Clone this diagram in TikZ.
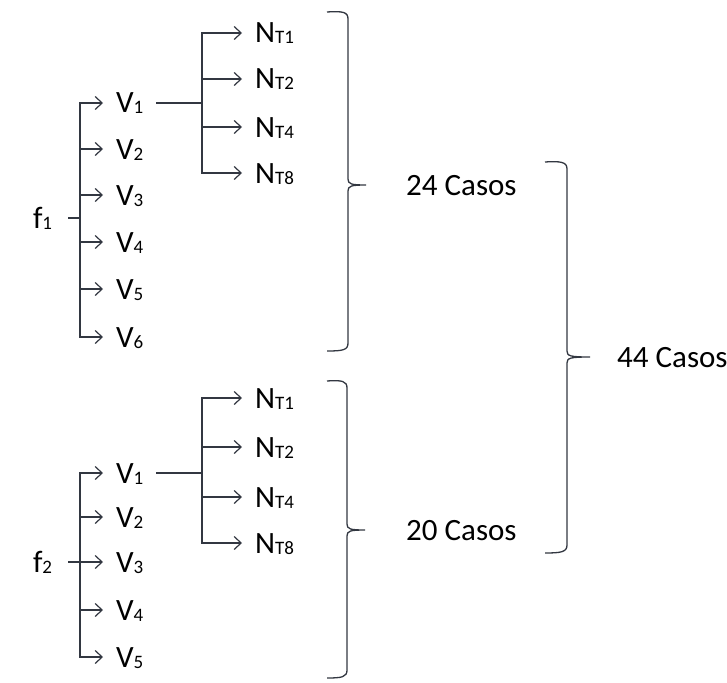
\documentclass[tikz,border=0pt]{standalone}
\usepackage{fontspec}
\setmainfont{Carlito}
\usetikzlibrary{arrows.meta}
\definecolor{linecol}{RGB}{50,55,65}
\newcommand{\sbx}[1]{\raisebox{-1pt}{\fontsize{19}{19}\selectfont #1}}
\begin{document}
\begin{tikzpicture}[x=1pt,y=-1pt,
  every node/.style={font=\fontsize{31}{33}\selectfont, inner sep=0pt, text height=20pt, text depth=0pt, anchor=west, text=black},
  lab/.style={outer xsep=13pt},
  fn/.style={outer xsep=16pt},
  ln/.style={draw=linecol, line width=1.3pt},
  thk/.style={draw=linecol, line width=2.1pt},
  arr/.style={ln, -{Straight Barb[length=7pt,width=13pt,line width=1.2pt]}},
  brc/.style={draw=linecol, line width=1.3pt}
]
\useasboundingbox (0,0) rectangle (727,682);

% ---------- top tree ----------
\node[fn] (f1) at (17,218) {f\sbx{1}};
\coordinate (b1) at (80,218);
\node[lab] (v11) at (103,103) {V\sbx{1}};
\node[lab] (v12) at (103,149) {V\sbx{2}};
\node[lab] (v13) at (103,195) {V\sbx{3}};
\node[lab] (v14) at (103,242) {V\sbx{4}};
\node[lab] (v15) at (103,289) {V\sbx{5}};
\node[lab] (v16) at (103,337) {V\sbx{6}};
\draw[thk] (f1.east) -- (b1);
\draw[arr] (b1) |- (v11.west);
\draw[arr] (b1) |- (v16.west);
\foreach \v in {v12,v13,v14,v15} \draw[arr] (b1 |- \v.west) -- (\v.west);

\coordinate (n1) at (202,103);
\node[lab] (t11) at (242,33) {N\sbx{T1}};
\node[lab] (t12) at (242,79) {N\sbx{T2}};
\node[lab] (t14) at (242,127) {N\sbx{T4}};
\node[lab] (t18) at (242,173) {N\sbx{T8}};
\draw[thk] (v11.east) -- (n1);
\draw[arr] (n1) |- (t11.west);
\draw[arr] (n1) |- (t18.west);
\foreach \v in {t12,t14} \draw[arr] (n1 |- \v.west) -- (\v.west);

% ---------- bottom tree ----------
\node[fn] (f2) at (17,562) {f\sbx{2}};
\coordinate (b2) at (80,562);
\node[lab] (v21) at (103,473) {V\sbx{1}};
\node[lab] (v22) at (103,517) {V\sbx{2}};
\node[lab] (v23) at (103,562) {V\sbx{3}};
\node[lab] (v24) at (103,610) {V\sbx{4}};
\node[lab] (v25) at (103,657) {V\sbx{5}};
\draw[thk] (f2.east) -- (b2);
\draw[arr] (b2) |- (v21.west);
\draw[arr] (b2) |- (v25.west);
\foreach \v in {v22,v23,v24} \draw[arr] (b2 |- \v.west) -- (\v.west);

\coordinate (n2) at (202,473);
\node[lab] (t21) at (242,398) {N\sbx{T1}};
\node[lab] (t22) at (242,447) {N\sbx{T2}};
\node[lab] (t24) at (242,497) {N\sbx{T4}};
\node[lab] (t28) at (242,543) {N\sbx{T8}};
\draw[thk] (v21.east) -- (n2);
\draw[arr] (n2) |- (t21.west);
\draw[arr] (n2) |- (t28.west);
\foreach \v in {t22,t24} \draw[arr] (n2 |- \v.west) -- (\v.west);

% ---------- braces ----------
\draw[brc] (327,12) .. controls (343,11) and (348,12) .. (348,19) -- (348,179)
  .. controls (348,184) and (351,185) .. (366,185)
  .. controls (351,185) and (348,186) .. (348,191) -- (348,343)
  .. controls (348,350) and (343,351) .. (327,351);
\draw[brc] (327,381) .. controls (342,380) and (347,381) .. (347,388) -- (347,524)
  .. controls (347,529) and (350,530) .. (365,530)
  .. controls (350,530) and (347,531) .. (347,536) -- (347,670)
  .. controls (347,677) and (342,678) .. (327,678);
\draw[brc] (545,162) .. controls (561,161) and (567,162) .. (567,169) -- (567,351)
  .. controls (567,356) and (570,357) .. (590,357)
  .. controls (570,357) and (567,358) .. (567,363) -- (567,545)
  .. controls (567,552) and (561,553) .. (545,553);

\node (c24) at (406,185) {24 Casos};
\node (c20) at (406,530) {20 Casos};
\node (c44) at (617,357) {44 Casos};
\end{tikzpicture}
\end{document}
